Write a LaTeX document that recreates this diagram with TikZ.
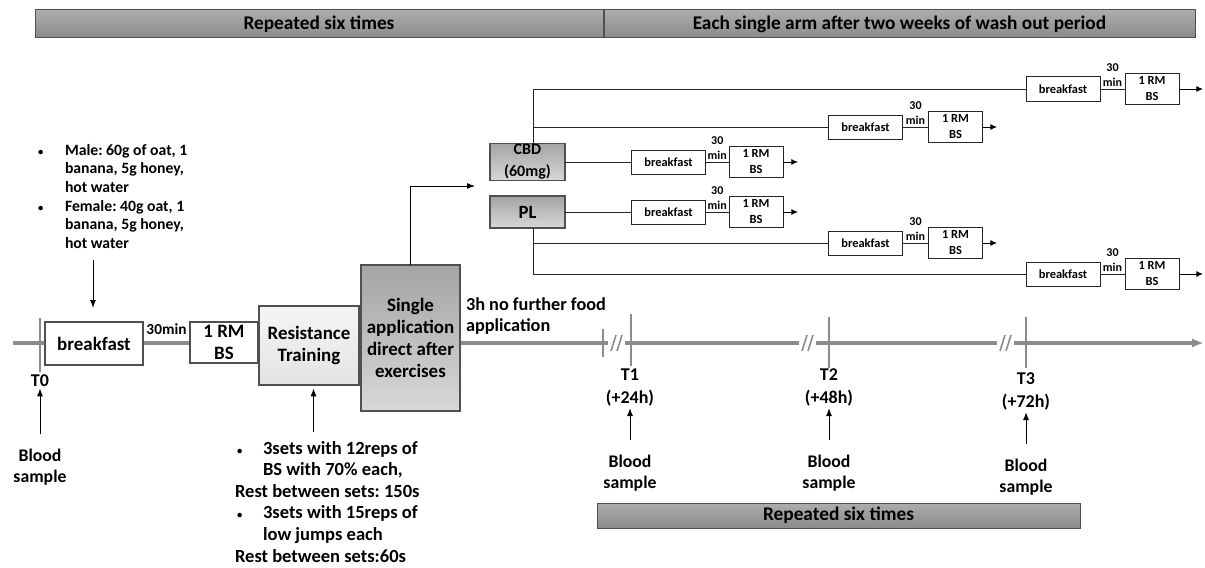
\documentclass[tikz,border=0pt]{standalone}
\usepackage{fontspec}
\setmainfont{Carlito}
\usetikzlibrary{arrows.meta}
\definecolor{tlgray}{HTML}{8C8C8C}
\definecolor{banTop}{HTML}{ADADAD}
\definecolor{banBot}{HTML}{8A8A8A}
\definecolor{bxTop}{HTML}{A4A4A4}
\definecolor{bxBot}{HTML}{D8D8D8}
\definecolor{rtTop}{HTML}{F5F5F5}
\definecolor{rtBot}{HTML}{E3E3E3}
\definecolor{edgeGray}{HTML}{505050}
\newcommand{\smbul}{{\fontsize{8}{8}\selectfont\textbullet}}
\begin{document}
\frenchspacing
\begin{tikzpicture}[x=0.75pt,y=-0.75pt,
  every node/.style={inner sep=0pt, outer sep=0pt},
  sz/.style 2 args={minimum width=#1*0.75pt, minimum height=#2*0.75pt},
  tl/.style={draw=tlgray, line width=2.3pt},
  tickmark/.style={draw=tlgray, line width=1.2pt},
  arr/.style={draw=black, line width=0.75pt, -{Latex[length=6pt,width=4.5pt]}},
  arrS/.style={draw=black, line width=0.75pt, -{Latex[length=5pt,width=4.5pt]}},
  con/.style={draw=black!85, line width=0.75pt},
  mainbox/.style={draw=edgeGray, line width=0.9pt, align=center, font=\bfseries\fontsize{14.2}{16.5}\selectfont},
  armbox/.style={draw=black!85, line width=0.75pt, fill=white, align=center, font=\bfseries\fontsize{9.3}{12}\selectfont},
  armlbl/.style={anchor=south, align=center, yshift=2pt, font=\bfseries\fontsize{9}{11.25}\selectfont},
  banner/.style={draw=edgeGray, line width=0.75pt, top color=banTop, bottom color=banBot, font=\bfseries\fontsize{14.5}{17}\selectfont},
  lbl/.style={align=center, font=\bfseries\fontsize{13.3}{15.75}\selectfont},
  tlbl/.style={align=center, font=\bfseries\fontsize{13.5}{17}\selectfont},
]
\useasboundingbox (0,0) rectangle (1205,567);

% banners
\node[banner, sz={568}{28}] (banL) at (319,24) {Repeated six times};
\node[banner, sz={591}{28}] (banR) at (899.5,24) {Each single arm after two weeks of wash out period};
\node[banner, sz={483}{25}] (banB) at (838.5,515.5) {Repeated six times};

% timeline
\coordinate (tlS) at (13,343);
\coordinate (tlE) at (1204,343);
\draw[tl, -{Latex[length=9pt,width=7pt]}] (tlS) -- (tlE);

% ticks
\draw[tickmark] (40,318) -- (40,372);
\draw[tickmark] (603,329) -- (603,357);
\draw[tickmark] (631,314) -- (631,366);
\draw[tickmark] (829,317) -- (829,368);
\draw[tickmark] (1026,317) -- (1026,368);

% breaks
\fill[white] (608,338.5) rectangle (625,347.5);
\draw[tickmark] (611,351) -- (616,335) (617,351) -- (622,335);
\fill[white] (799,338.5) rectangle (816,347.5);
\draw[tickmark] (802,351) -- (807,335) (808,351) -- (813,335);
\fill[white] (997,338.5) rectangle (1014,347.5);
\draw[tickmark] (1000,351) -- (1005,335) (1006,351) -- (1011,335);

% main boxes
\node[mainbox, fill=white, sz={98}{43}] (bf0) at (94,343.5) {breakfast};
\node[mainbox, fill=white, sz={68}{41}] (rm0) at (224,342.5) {1 RM\\BS};
\node[mainbox, top color=rtTop, bottom color=rtBot, sz={100}{79}] (rt) at (309,345.5) {Resistance\\Training};
\node[mainbox, top color=bxTop, bottom color=bxBot, sz={99}{146}] (sa) at (410.5,338) {Single\\application\\direct after\\exercises};
\path (bf0.east) -- node[anchor=south, yshift=6pt, font=\bfseries\fontsize{11.5}{13}\selectfont] (lbl30) {30min} (rm0.west);

% time labels
\node[tlbl] (T0) at (40,381) {T0};
\node[tlbl] (T1) at (630,387.5) {T1\\(+24h)};
\node[tlbl] (T2) at (829,387.5) {T2\\(+48h)};
\node[tlbl] (T3) at (1026,391.5) {T3\\(+72h)};

\node[lbl] (bs0) at (40,467.5) {Blood\\sample};
\node[lbl] (bs1) at (630,473.5) {Blood\\sample};
\node[lbl] (bs2) at (829,473.5) {Blood\\sample};
\node[lbl] (bs3) at (1026,477) {Blood\\sample};

\draw[arr, shorten <=11.5pt, shorten >=1pt] (bs0.north) -- (T0.south);
\draw[arr, shorten <=11.5pt, shorten >=1.5pt] (bs1.north) -- (T1.south);
\draw[arr, shorten <=11.5pt, shorten >=1.5pt] (bs2.north) -- (T2.south);
\draw[arr, shorten <=11.5pt, shorten >=1.5pt] (bs3.north) -- (T3.south);

% diet list
\node[anchor=north west, align=left, font=\bfseries\fontsize{11.8}{14}\selectfont] (diet) at (38,144)
 {\makebox[20.25pt][l]{\smbul}Male: 60g of oat, 1\\\hspace*{20.25pt}banana, 5g honey,\\\hspace*{20.25pt}hot water\\\makebox[20.25pt][l]{\smbul}Female: 40g oat, 1\\\hspace*{20.25pt}banana, 5g honey,\\\hspace*{20.25pt}hot water};
\coordinate (dietArr) at (93,260);
\draw[arr, shorten >=10.5pt] (dietArr) -- (dietArr |- bf0.north);

% training list
\node[anchor=north west, align=left, font=\bfseries\fontsize{13.9}{16.2}\selectfont] (rtlist) at (235,441)
 {\makebox[21pt][l]{\hspace{1.5pt}\smbul}3sets with 12reps of\\\hspace*{21pt}BS with 70\% each,\\Rest between sets: 150s\\\makebox[21pt][l]{\hspace{1.5pt}\smbul}3sets with 15reps of\\\hspace*{21pt}low jumps each\\Rest between sets:60s};
\coordinate (rtArr) at (313.5,432);
\draw[arr, shorten >=2.5pt] (rtArr) -- (rtArr |- rt.south);

% no food text
\node[anchor=north west, align=left, font=\bfseries\fontsize{13.7}{15.75}\selectfont] (noFood) at (466,298) {3h no further food\\application};

% arms
\node[mainbox, top color=bxTop, bottom color=bxBot, sz={75}{37}, font=\bfseries\fontsize{12}{16.5}\selectfont] (cbd) at (527.5,162) {CBD\\(60mg)};
\node[mainbox, top color=bxTop, bottom color=bxBot, sz={75}{32}, font=\bfseries\fontsize{14}{16}\selectfont] (pl) at (527.5,212) {PL};
\coordinate (armIn) at (475,186);
\draw[arr] (sa.north) |- (armIn);

\foreach \n/\yy/\bx/\rx/\ex in {A/89/1063/1152/1203, B/127/865.5/955.5/997, C/162/668.5/756/798, D/212/668.5/756/798, E/243/865.5/955.5/997, F/274/1063/1152/1203}{
  \node[armbox, sz={74}{24}] (bf\n) at (\bx,\yy) {breakfast};
  \node[armbox, sz={54}{31}] (rm\n) at (\rx,\yy) {1 RM\\BS};
  \coordinate (end\n) at (\ex,\yy);
  \draw[con] (bf\n.east) -- node[armlbl]{30\\min} (rm\n.west);
  \draw[arrS] (rm\n.east) -- (end\n);
}

\coordinate (tA) at (533,89);
\draw[con] (cbd.north -| tA) |- (bfA.west);
\draw[con] (tA |- bfB.west) -- (bfB.west);
\draw[con] (cbd.east) -- (bfC.west);
\draw[con] (pl.east) -- (bfD.west);
\draw[con] (pl.south -| tA) |- (bfF.west);
\draw[con] (tA |- bfE.west) -- (bfE.west);
\end{tikzpicture}
\end{document}
